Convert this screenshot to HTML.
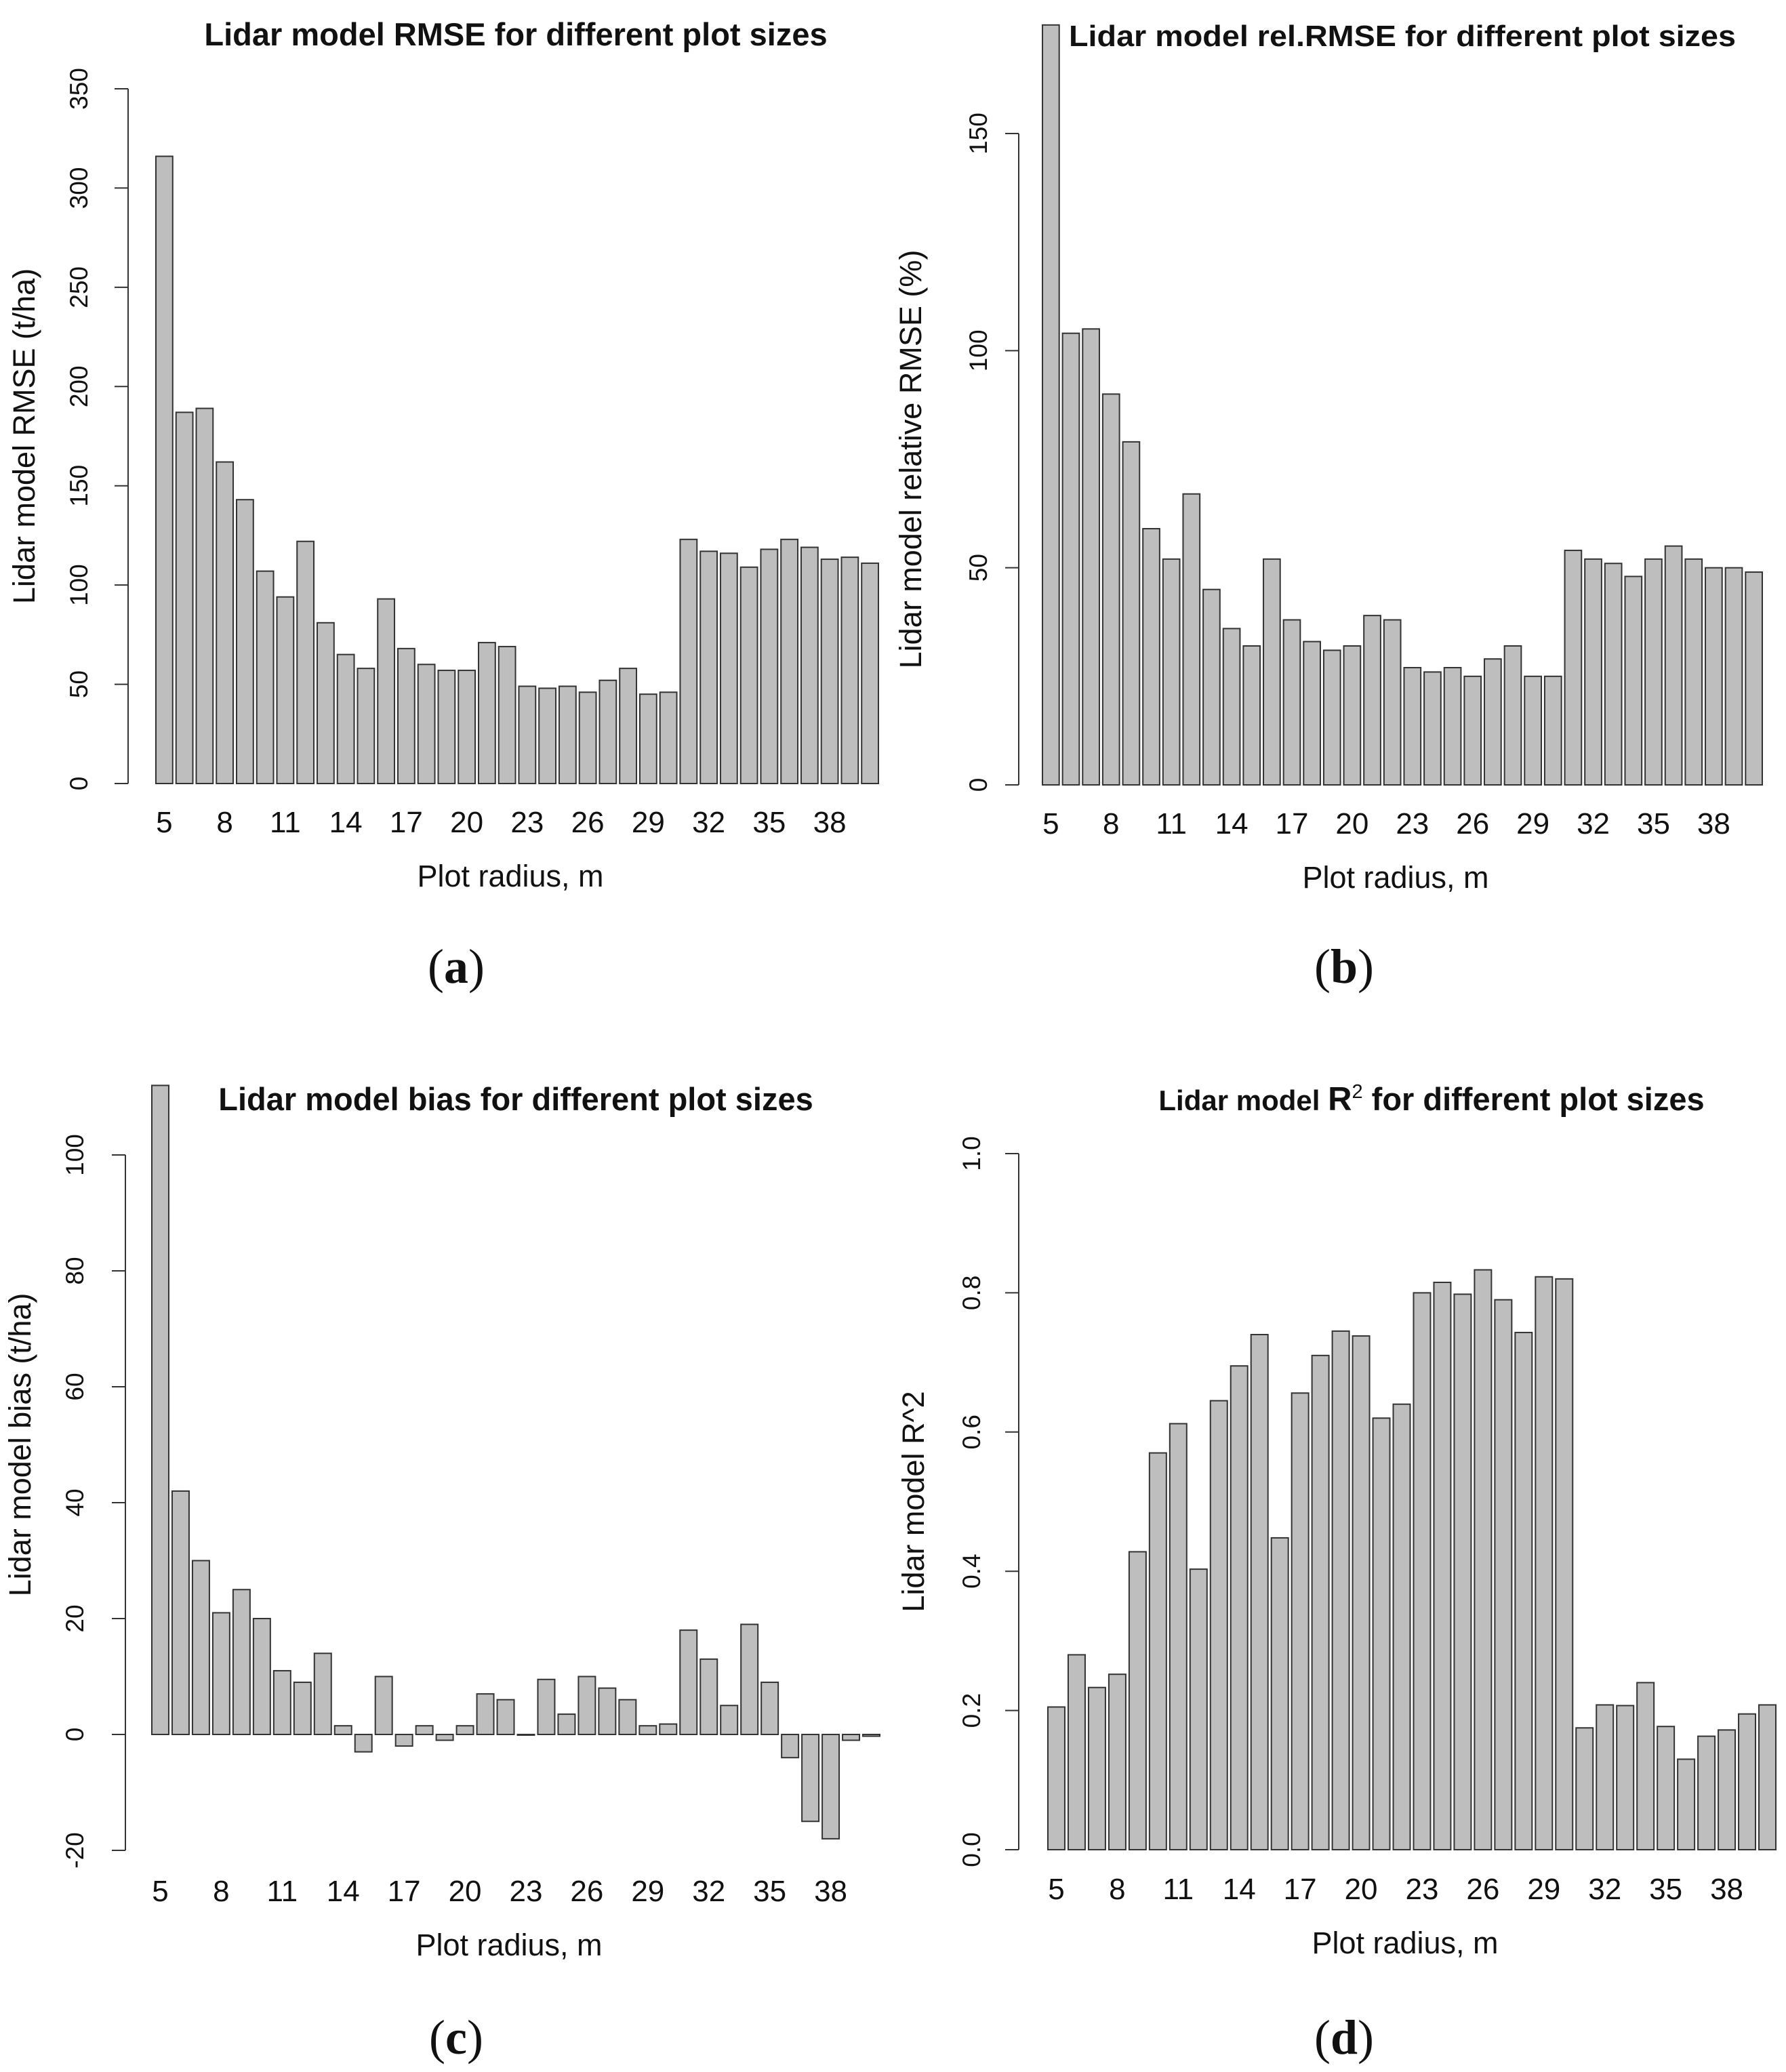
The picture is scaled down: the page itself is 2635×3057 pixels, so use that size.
<!DOCTYPE html>
<html><head><meta charset="utf-8"><style>
html,body{margin:0;padding:0;background:#fff}
svg{display:block}
text{font-family:"Liberation Sans",sans-serif;fill:#111}
</style></head><body>
<svg id="fig" width="2635" height="3057" viewBox="0 0 2635 3057" xmlns="http://www.w3.org/2000/svg"></svg>
<script>
const radii = [5,6,7,8,9,10,11,12,13,14,15,16,17,18,19,20,21,22,23,24,25,26,27,28,29,30,31,32,33,34,35,36,37,38,39,40];
const rmseValues = [316,187,189,162,143,107,94,122,81,65,58,93,68,60,57,57,71,69,49,48,49,46,52,58,45,46,123,117,116,109,118,123,119,113,114,111];
const relRmseValues = [175,104,105,90,79,59,52,67,45,36,32,52,38,33,31,32,39,38,27,26,27,25,29,32,25,25,54,52,51,48,52,55,52,50,50,49];
const biasValues = [112,42,30,21,25,20,11,9,14,1.5,-3,10,-2,1.5,-1,1.5,7,6,0,9.5,3.5,10,8,6,1.5,1.8,18,13,5,19,9,-4,-15,-18,-1,-0.3];
const r2Values = [0.205,0.28,0.233,0.252,0.428,0.57,0.612,0.403,0.645,0.695,0.74,0.448,0.656,0.71,0.745,0.738,0.62,0.64,0.8,0.815,0.798,0.833,0.79,0.743,0.823,0.82,0.175,0.208,0.207,0.24,0.177,0.13,0.163,0.172,0.195,0.208];
const rmseTicks = [0,50,100,150,200,250,300,350];
const relTicks = [0,50,100,150];
const biasTicks = [-20,0,20,40,60,80,100];
const r2Ticks = ["0.0","0.2","0.4","0.6","0.8","1.0"];
const xTickLabels = [5,8,11,14,17,20,23,26,29,32,35,38];

const NS="http://www.w3.org/2000/svg";
const svg=document.getElementById('fig');
function mk(tag,attrs,parent){const e=document.createElementNS(NS,tag);for(const k in attrs)e.setAttribute(k,attrs[k]);(parent||svg).appendChild(e);return e;}

const panels=[
 {key:'rmse',vals:rmseValues,ticks:rmseTicks,axisX:189,barL:230,barR:1296,y0v:0,y0:1156,y1v:350,y1:131,
  title:'Lidar model RMSE for different plot sizes',tx:761,ty:67,ylab:'Lidar model RMSE (t/ha)',ylx:51,tlx:129,xty:1228,xly:1308,cap:'(a)',cx:673,cy:1450,condensed:false},
 {key:'relrmse',vals:relRmseValues,ticks:relTicks,axisX:1503,barL:1538,barR:2600,y0v:0,y0:1158,y1v:150,y1:197,
  title:'Lidar model rel.RMSE for different plot sizes',tx:2069,ty:68,ylab:'Lidar model relative RMSE (%)',ylx:1359,tlx:1456,xty:1230,xly:1310,cap:'(b)',cx:1983,cy:1450,condensed:true},
 {key:'bias',vals:biasValues,ticks:biasTicks,axisX:185,barL:224,barR:1298,y0v:0,y0:2559,y1v:100,y1:1704,
  title:'Lidar model bias for different plot sizes',tx:761,ty:1638,ylab:'Lidar model bias (t/ha)',ylx:45,tlx:123,xty:2805,xly:2885,cap:'(c)',cx:673,cy:3030,condensed:false},
 {key:'r2',vals:r2Values,ticks:r2Ticks,axisX:1503,barL:1546,barR:2620,y0v:0,y0:2729,y1v:1,y1:1702,
  title:null,tx:2112,ty:1638,ylab:'Lidar model R^2',ylx:1363,tlx:1446,xty:2802,xly:2882,cap:'(d)',cx:1983,cy:3030,condensed:false}
];

panels.forEach(p=>{
  const g=mk('g',{});
  
  
  const yScale=v=>p.y0+(v-p.y0v)*(p.y1-p.y0)/(p.y1v-p.y0v);
  const n=p.vals.length;
  const unit=(p.barR-p.barL)/(n*1.2-0.2);
  const xLeft=i=>p.barL+i*1.2*unit;
  p.vals.forEach((v,i)=>{
    const ya=yScale(0),yb=yScale(v);
    const r=mk('rect',{x:xLeft(i),y:Math.min(ya,yb),width:unit,height:Math.max(Math.abs(ya-yb),1),fill:'#bebebe',stroke:'#333','stroke-width':2},g);
    
    
  });
  const tv=p.ticks.map(Number);
  const ax=mk('line',{x1:p.axisX,x2:p.axisX,y1:yScale(tv[0]),y2:yScale(tv[tv.length-1]),stroke:'#333','stroke-width':2},g);
  
  
  p.ticks.forEach(t=>{
    const y=yScale(Number(t));
    mk('line',{x1:p.axisX-20,x2:p.axisX,y1:y,y2:y,stroke:'#333','stroke-width':2},g);
    const tl=mk('text',{x:p.tlx,y:y,'font-size':37,'text-anchor':'middle',transform:`rotate(-90 ${p.tlx} ${y})`},g);
    tl.textContent=String(t);
    
    
  });
  xTickLabels.forEach(r=>{
    const i=radii.indexOf(r);
    const xl=mk('text',{x:xLeft(i)+unit/2,y:p.xty,'font-size':44,'text-anchor':'middle'},g);
    xl.textContent=String(r);
    
    
  });
  const xt=mk('text',{x:(p.barL+p.barR)/2-10,y:p.xly,'font-size':45,'text-anchor':'middle'},g);
  xt.textContent='Plot radius, m';
  
  
  const ymid=(p.y0+yScale(tv[tv.length-1]))/2;
  const yt=mk('text',{x:p.ylx,y:ymid,'font-size':45,'text-anchor':'middle',transform:`rotate(-90 ${p.ylx} ${ymid})`},g);
  yt.textContent=p.ylab;
  
  
  const tt=mk('text',{x:p.tx,y:p.ty,'font-size':p.condensed?44:47,'font-weight':'bold','text-anchor':'middle'},g);
  if(p.title){tt.textContent=p.title;}
  else{
    const a=mk('tspan',{},tt);a.textContent='Lidar model ';a.setAttribute('font-size','42');
    const b=mk('tspan',{},tt);b.textContent='R';b.setAttribute('font-size','49');
    const c=mk('tspan',{dy:-18,'font-size':29,'font-weight':'normal'},tt);c.textContent='2';
    const d=mk('tspan',{dy:18},tt);d.textContent=' for different plot sizes';
  }
  if(p.condensed){tt.setAttribute('textLength','984');tt.setAttribute('lengthAdjust','spacingAndGlyphs');}
  
  
  const cp=mk('text',{x:p.cx,y:p.cy,'font-size':72,'text-anchor':'middle'},g);
  cp.style.fontFamily='"Liberation Serif",serif';
  cp.innerHTML='(<tspan font-weight="bold">'+p.cap[1]+'</tspan>)';
  
  
});
</script>
</body></html>
